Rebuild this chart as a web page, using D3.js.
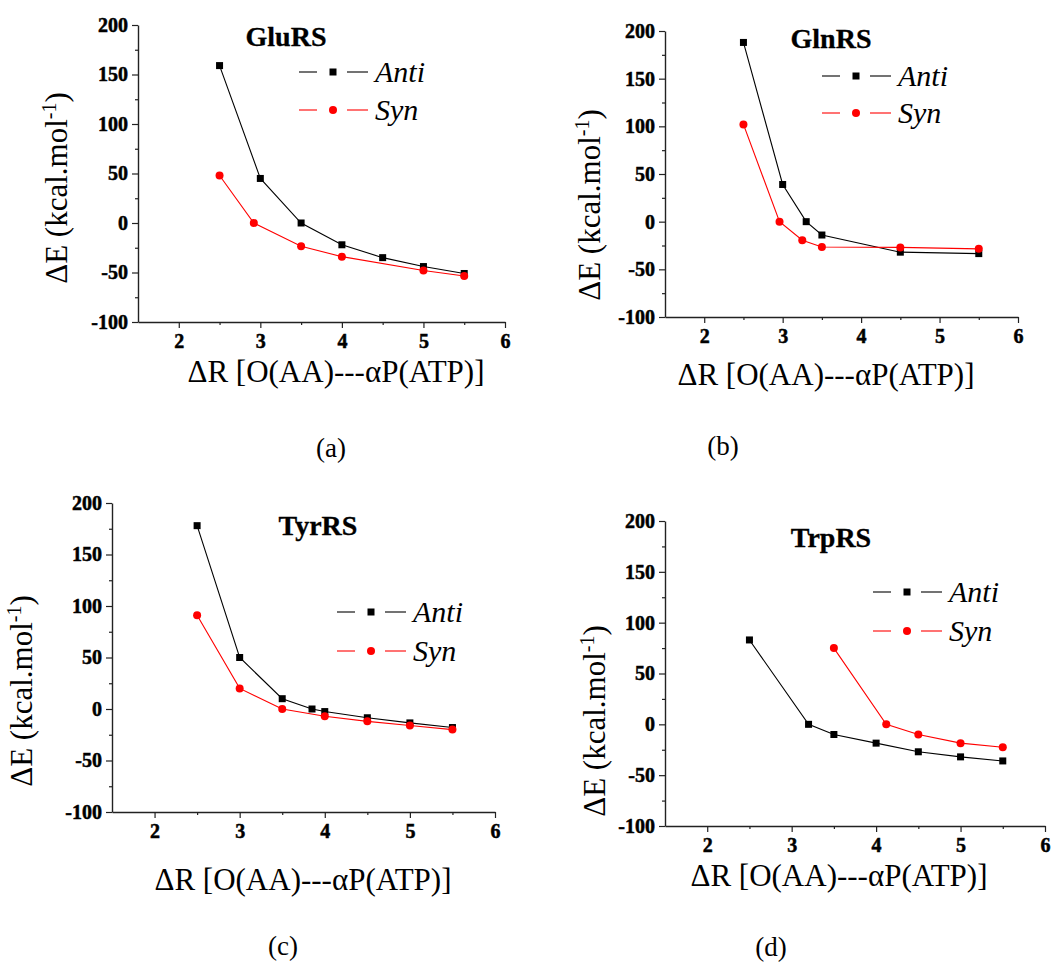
<!DOCTYPE html>
<html>
<head>
<meta charset="utf-8">
<script src="https://cdn.jsdelivr.net/npm/d3@7"></script>
<style>
  html, body { margin: 0; padding: 0; background: #fff; }
  svg { display: block; }
  svg text { font-family: "Liberation Serif", "Times New Roman", Times, serif !important; }
</style>
</head>
<body>
<svg id="fig" width="1057" height="966"></svg>
<script>
// ---- Data: ΔE (kcal/mol) vs. O(AA)---αP(ATP) distance, per enzyme ----
const gluAntiX = [2.5, 3, 3.5, 4, 4.5, 5, 5.5];
const gluAntiY = [159, 45, 0, -22, -35, -44, -51];
const gluSynX  = [2.5, 2.92, 3.5, 4, 5, 5.5];
const gluSynY  = [48, 0, -23.5, -34, -48, -53.5];

const glnAntiX = [2.5, 3, 3.3, 3.5, 4.5, 5.5];
const glnAntiY = [188, 39, 0, -14, -32, -33.5];
const glnSynX  = [2.5, 2.96, 3.25, 3.5, 4.5, 5.5];
const glnSynY  = [102, 0, -19.5, -26.5, -27, -28.5];

const tyrAntiX = [2.5, 3, 3.5, 3.85, 4, 4.5, 5, 5.5];
const tyrAntiY = [178, 50, 10, 0, -2.5, -8.5, -13.5, -18];
const tyrSynX  = [2.5, 3, 3.5, 4, 4.5, 5, 5.5];
const tyrSynY  = [91, 20, 0, -7, -12, -16, -20];

const trpAntiX = [2.5, 3.2, 3.5, 4, 4.5, 5, 5.5];
const trpAntiY = [83, 0, -10, -18.5, -27, -32, -36];
const trpSynX  = [3.5, 4.12, 4.5, 5, 5.5];
const trpSynY  = [75, 0, -10, -18.5, -22.5];

const panelTitles = ["GluRS", "GlnRS", "TyrRS", "TrpRS"];
const panelTags   = ["(a)", "(b)", "(c)", "(d)"];
const seriesNames = ["Anti", "Syn"];
const seriesColors = ["#000000", "#ff0000"];

const xDomain = [1.5, 6];
const yDomain = [-100, 200];
const xMajorTicks = [2, 3, 4, 5, 6];
const xMinorTicks = [2.5, 3.5, 4.5, 5.5];
const yMajorTicks = [-100, -50, 0, 50, 100, 150, 200];
const yMinorTicks = [-75, -25, 25, 75, 125, 175];

const xTitle = "ΔR [O(AA)---αP(ATP)]";

// ---- Panel layout (pixel boxes and label placements) ----
const panels = [
  { series: [[gluAntiX, gluAntiY], [gluSynX, gluSynY]],
    box: { l: 138, r: 505, t: 25, b: 322 },
    title: { x: 286, y: 46 },
    legend: { x: 299, y: 72, dy: 38 },
    xTitle: { x: 336, y: 382 }, tag: { x: 331, y: 457 },
    yTitle: { x: 67, y: 188 } },
  { series: [[glnAntiX, glnAntiY], [glnSynX, glnSynY]],
    box: { l: 665, r: 1018, t: 31, b: 317 },
    title: { x: 831, y: 48 },
    legend: { x: 822, y: 76, dy: 37 },
    xTitle: { x: 826, y: 385 }, tag: { x: 723, y: 455 },
    yTitle: { x: 600, y: 205 } },
  { series: [[tyrAntiX, tyrAntiY], [tyrSynX, tyrSynY]],
    box: { l: 112, r: 495, t: 503, b: 812 },
    title: { x: 318, y: 535 },
    legend: { x: 337, y: 612, dy: 39 },
    xTitle: { x: 303, y: 890 }, tag: { x: 283, y: 955 },
    yTitle: { x: 32, y: 691 } },
  { series: [[trpAntiX, trpAntiY], [trpSynX, trpSynY]],
    box: { l: 665, r: 1045, t: 521, b: 826 },
    title: { x: 831, y: 547 },
    legend: { x: 873, y: 592, dy: 39 },
    xTitle: { x: 839, y: 886 }, tag: { x: 771, y: 956 },
    yTitle: { x: 605, y: 721 } }
];

const svg = d3.select("#fig");
const SERIF = '"Liberation Serif", "Times New Roman", Times, serif';

function drawMarker(g, kind, cx, cy, color) {
  if (kind === 0) {
    g.append("rect")
      .attr("x", cx - 3.5).attr("y", cy - 3.5)
      .attr("width", 7).attr("height", 7)
      .attr("fill", color);
  } else {
    g.append("circle")
      .attr("cx", cx).attr("cy", cy).attr("r", 4)
      .attr("fill", color);
  }
}

const plainNum = d => String(d);   // hyphen-minus, as in the printed figure

panels.forEach((p, i) => {
  const g = svg.append("g");
  const x = d3.scaleLinear().domain(xDomain).range([p.box.l, p.box.r]);
  const y = d3.scaleLinear().domain(yDomain).range([p.box.b, p.box.t]);

  // x axis: labelled majors and unlabelled half-unit minors
  const xAxisG = g.append("g").attr("transform", `translate(0,${p.box.b})`);
  xAxisG.call(d3.axisBottom(x).tickValues(xMajorTicks).tickSize(6)
      .tickSizeOuter(0).tickPadding(6).tickFormat(plainNum));
  xAxisG.append("g").call(d3.axisBottom(x).tickValues(xMinorTicks)
      .tickSize(3).tickSizeOuter(0).tickFormat(""))
    .select(".domain").remove();

  // y axis
  const yAxisG = g.append("g").attr("transform", `translate(${p.box.l},0)`);
  yAxisG.call(d3.axisLeft(y).tickValues(yMajorTicks).tickSize(6)
      .tickSizeOuter(0).tickPadding(4).tickFormat(plainNum));
  yAxisG.append("g").call(d3.axisLeft(y).tickValues(yMinorTicks)
      .tickSize(3).tickSizeOuter(0).tickFormat(""))
    .select(".domain").remove();

  [xAxisG, yAxisG].forEach(a => {
    a.attr("font-family", SERIF).attr("font-size", 20);
    a.selectAll(".domain").attr("stroke", "#222").attr("stroke-width", 1.4);
    a.selectAll(".tick line").attr("stroke", "#222").attr("stroke-width", 1.2);
    a.selectAll(".tick text")
      .style("font-family", SERIF).style("font-size", "20px")
      .style("font-weight", "bold").attr("fill", "#000")
      .style("stroke", "#000").style("stroke-width", "0.5px");
  });

  // series lines and markers
  p.series.forEach(([xs, ys], k) => {
    const pts = xs.map((v, j) => [v, ys[j]]);
    const line = d3.line().x(d => x(d[0])).y(d => y(d[1]));
    g.append("path").datum(pts)
      .attr("d", line).attr("fill", "none")
      .attr("stroke", seriesColors[k]).attr("stroke-width", 1.1);
    const mg = g.append("g");
    pts.forEach(d => drawMarker(mg, k, x(d[0]), y(d[1]), seriesColors[k]));
  });

  // panel title
  g.append("text").attr("x", p.title.x).attr("y", p.title.y)
    .attr("text-anchor", "middle")
    .style("font-size", "28px").style("font-weight", "bold")
    .style("stroke", "#000").style("stroke-width", "0.3px")
    .text(panelTitles[i]);

  // legend
  seriesNames.forEach((name, k) => {
    const ly = p.legend.y + k * p.legend.dy;
    const lx = p.legend.x;
    const lg = g.append("g");
    lg.append("line").attr("x1", lx).attr("x2", lx + 18)
      .attr("y1", ly).attr("y2", ly)
      .attr("stroke", seriesColors[k]).attr("stroke-width", 1.1);
    lg.append("line").attr("x1", lx + 48).attr("x2", lx + 69)
      .attr("y1", ly).attr("y2", ly)
      .attr("stroke", seriesColors[k]).attr("stroke-width", 1.1);
    drawMarker(lg, k, lx + 34, ly, seriesColors[k]);
    lg.append("text").attr("x", lx + 76).attr("y", ly + 10)
      .style("font-size", "30px").style("font-style", "italic").text(name);
  });

  // axis titles
  g.append("text").attr("x", p.xTitle.x).attr("y", p.xTitle.y)
    .attr("text-anchor", "middle").style("font-size", "31px").text(xTitle);

  const yt = g.append("text")
    .attr("transform", `translate(${p.yTitle.x},${p.yTitle.y}) rotate(-90)`)
    .attr("text-anchor", "middle").style("font-size", "31px");
  yt.append("tspan").text("ΔE (kcal.mol");
  yt.append("tspan").style("font-size", "20px").attr("dy", -11).text("-1");
  yt.append("tspan").attr("dy", 11).text(")");

  // sub-figure tag
  g.append("text").attr("x", p.tag.x).attr("y", p.tag.y)
    .attr("text-anchor", "middle").style("font-size", "27px").text(panelTags[i]);
});
</script>
</body>
</html>
